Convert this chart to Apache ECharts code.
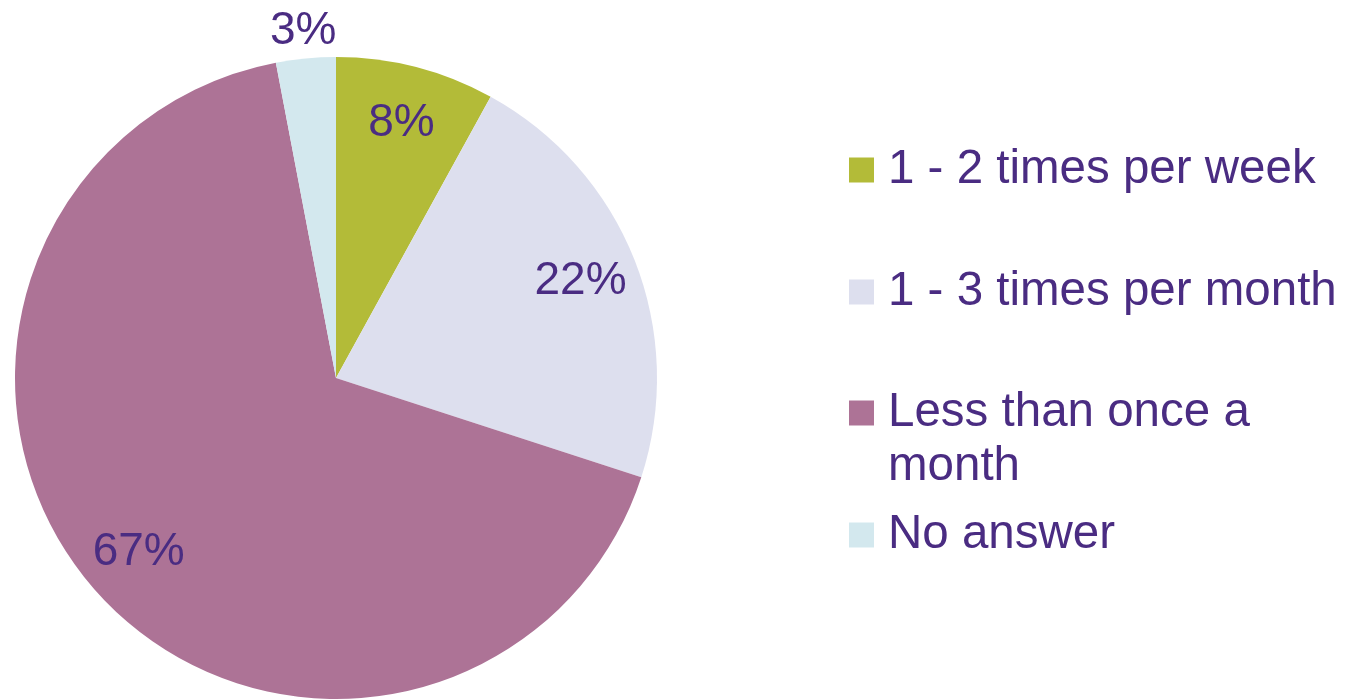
<!DOCTYPE html>
<html><head><meta charset="utf-8">
<script src="https://cdn.jsdelivr.net/npm/echarts@6/dist/echarts.min.js"></script>
<style>html,body{margin:0;padding:0;background:#fff}#c{width:1356px;height:700px}</style>
</head><body><div id="c"></div>
<script>
const categories = ['1 - 2 times per week', '1 - 3 times per month', 'Less than once a month', 'No answer'];
const values = [8, 22, 67, 3];
const colors = ['#B3BB38', '#DDDFEE', '#AD7396', '#D3E8EE'];
const legendTexts = ['1 - 2 times per week', '1 - 3 times per month', '\nLess than once a\nmonth', 'No answer'];

const textColor = '#4A2C82';
const font = 'Liberation Sans, Arial, sans-serif';
const legendCenters = [170, 292, 413, 535];

const chart = echarts.init(document.getElementById('c'), null, {renderer: 'canvas'});
const mainData = categories.map((n, i) => ({name: n, value: values[i], itemStyle: {color: colors[i]}}));
const labelData = categories.map((n, i) => ({name: n, value: values[i], label: {show: i < 3}}));
const outerData = categories.map((n, i) => ({name: n, value: values[i], label: {show: i === 3}}));

const labelStyle = {position: 'inside', formatter: '{d}%', color: textColor, fontFamily: font, fontSize: 46};

chart.setOption({
  animation: false,
  legend: categories.map((n, i) => {
    const lines = legendTexts[i].split('\n').length;
    return {
      data: [n], orient: 'vertical', left: 849,
      top: legendCenters[i] - 27 * lines,
      padding: 0, icon: 'rect', itemWidth: 25, itemHeight: 25,
      selectedMode: false,
      formatter: () => legendTexts[i],
      textStyle: {color: textColor, fontFamily: font, fontSize: 47.5, lineHeight: 54,
        padding: [0, 0, 0, 9]}
    };
  }),
  series: [
    {type: 'pie', center: [336, 378], radius: [0, 321], startAngle: 90, clockwise: true,
     label: {show: false}, labelLine: {show: false}, silent: true, data: mainData,
     itemStyle: {borderWidth: 0}},
    {type: 'pie', center: [336, 378], radius: [200, 320], startAngle: 90, clockwise: true,
     itemStyle: {color: 'rgba(0,0,0,0)'}, silent: true, labelLine: {show: false},
     label: labelStyle, data: labelData, legendHoverLink: false},
    {type: 'pie', center: [336, 378], radius: [322, 368], startAngle: 90, clockwise: true,
     itemStyle: {color: 'rgba(0,0,0,0)'}, silent: true, labelLine: {show: false},
     label: labelStyle, data: outerData, legendHoverLink: false}
  ]
});
</script></body></html>
